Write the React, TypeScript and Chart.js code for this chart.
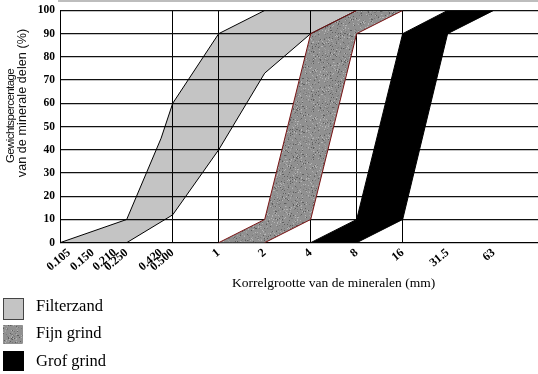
import { useEffect, useRef, useState } from 'react';
import { Chart, registerables } from 'chart.js';

Chart.register(...registerables);

// ---- data ----
const tickValues = [0.105, 0.15, 0.21, 0.25, 0.42, 0.5, 1, 2, 4, 8, 16, 31.5, 63];
const tickLabels = ['0.105', '0.150', '0.210', '0.250', '0.420', '0.500', '1', '2', '4', '8', '16', '31.5', '63'];
const gridValues = [0.5, 1, 4, 8, 16];
const xMin = 0.0915;
const xMax = 123;

const filterLeftX = [0.0915, 0.25, 0.42, 0.5, 1, 2];
const filterLeftY = [0, 10, 45, 60, 90, 100];
const filterRightX = [0.25, 0.5, 1, 2, 4, 8];
const filterRightY = [0, 12, 40, 73, 90, 100];

const bandY = [0, 10, 90, 100];
const fijnLeftX = [1, 2, 4, 8];
const fijnRightX = [2, 4, 8, 16];
const grofLeftX = [4, 8, 16, 31.5];
const grofRightX = [8, 16, 31.5, 63];

const seriesNames = ['Filterzand', 'Fijn grind', 'Grof grind'];
const yTitle = ['Gewichtspercentage', 'van de minerale delen (%)'];
const xTitle = 'Korrelgrootte van de mineralen (mm)';

const FILTER_COLOR = '#c4c4c4';

function makeSpeckleCanvas(): HTMLCanvasElement {
  const c = document.createElement('canvas');
  c.width = 48;
  c.height = 48;
  const g = c.getContext('2d')!;
  g.fillStyle = '#909090';
  g.fillRect(0, 0, 48, 48);
  let s = 1234567;
  const next = () => {
    s = (Math.imul(s, 1103515245) + 12345) >>> 0;
    return s >>> 8;
  };
  for (let i = 0; i < 520; i++) {
    const x = next() % 48;
    const y = next() % 48;
    const t = next() % 4;
    g.fillStyle = t === 0 ? '#5e5e5e' : t === 1 ? '#b4b4b4' : t === 2 ? '#7a7a7a' : '#a2a2a2';
    g.fillRect(x, y, 1, 1);
  }
  return c;
}

function pts(xs: number[], ys: number[]) {
  return xs.map((x, i) => ({ x, y: ys[i] }));
}

export default function App() {
  const ref = useRef<HTMLCanvasElement | null>(null);
  const [patternUrl, setPatternUrl] = useState<string>('');

  useEffect(() => {
    document.body.style.margin = '0';
    const speckle = makeSpeckleCanvas();
    setPatternUrl(speckle.toDataURL());
    const canvas = ref.current!;
    const ctx = canvas.getContext('2d')!;
    const pattern = ctx.createPattern(speckle, 'repeat')!;

    const ds = (xs: number[], ys: number[], bg: any, fill: any, order: number, border: string) => ({
      data: pts(xs, ys),
      borderColor: border,
      borderWidth: 1,
      backgroundColor: bg,
      fill,
      order,
      pointRadius: 0,
      tension: 0,
    });

    const chart = new Chart(canvas, {
      type: 'line',
      data: {
        datasets: [
          { label: seriesNames[0], ...ds(filterLeftX, filterLeftY, 'rgba(0,0,0,0.23)', '+1', 3, '#000') },
          { label: seriesNames[0] + ' (r)', ...ds(filterRightX, filterRightY, 'rgba(0,0,0,0.23)', false, 3, '#000') },
          { label: seriesNames[1], ...ds(fijnLeftX, bandY, pattern, '+1', 2, '#7a1414') },
          { label: seriesNames[1] + ' (r)', ...ds(fijnRightX, bandY, pattern, false, 2, '#7a1414') },
          { label: seriesNames[2], ...ds(grofLeftX, bandY, '#000', '+1', 1, '#000') },
          { label: seriesNames[2] + ' (r)', ...ds(grofRightX, bandY, '#000', false, 1, '#000') },
        ],
      },
      options: {
        animation: false,
        responsive: false,
        indexAxis: 'y',
        layout: { padding: { top: 5.7, bottom: 91.3, left: 0, right: 0 } },
        plugins: {
          legend: { display: false },
          tooltip: { enabled: false },
          filler: { drawTime: 'beforeDatasetsDraw' },
        },
        scales: {
          x: {
            type: 'logarithmic',
            position: 'bottom',
            min: xMin,
            max: xMax,
            bounds: 'data',
            afterBuildTicks: (scale: any) => {
              scale.ticks = tickValues.map((v) => ({ value: v }));
            },
            afterFit: (scale: any) => {
              scale.height = 40;
            },
            ticks: {
              autoSkip: false,
              minRotation: 40,
              maxRotation: 40,
              padding: 3,
              color: '#000',
              font: { family: 'Liberation Serif', size: 12, weight: 'bold' },
              callback: (_v: any, i: number) => tickLabels[i],
            },
            grid: {
              drawTicks: false,
              lineWidth: 1,
              color: (c: any) => (c.tick && gridValues.includes(c.tick.value) ? '#000' : 'rgba(0,0,0,0)'),
            },
            border: { display: true, color: '#000', width: 1 },
          },
          y: {
            type: 'linear',
            min: 0,
            max: 100,
            afterFit: (scale: any) => {
              scale.width = 60;
            },
            ticks: {
              stepSize: 10,
              padding: 5,
              color: '#000',
              font: { family: 'Liberation Serif', size: 11.5, weight: 'bold', lineHeight: 0.95 },
            },
            grid: { drawTicks: false, color: '#111', lineWidth: 1.3 },
            border: { display: true, color: '#000', width: 1 },
          },
        },
      },
    } as any);
    return () => chart.destroy();
  }, []);

  const abs = (s: any) => ({ position: 'absolute' as const, ...s });

  return (
    <div style={{ position: 'relative', width: 538, height: 374, background: '#fff', overflow: 'hidden' }}>
      <canvas ref={ref} width={538} height={374} style={{ display: 'block', width: 538, height: 374 }} />
      <div style={abs({ left: 58, top: 0, width: 480, height: 2, background: '#bdbdbd' })} />
      <div
        style={abs({
          left: 11,
          top: 116,
          transform: 'translate(-50%,-50%) rotate(-90deg)',
          whiteSpace: 'nowrap',
          fontFamily: 'Liberation Sans',
          fontSize: 11.5,
          letterSpacing: -0.6,
          lineHeight: 1,
          color: '#111',
        })}
      >
        {yTitle[0]}
      </div>
      <div
        style={abs({
          left: 22,
          top: 103,
          transform: 'translate(-50%,-50%) rotate(-90deg)',
          whiteSpace: 'nowrap',
          fontFamily: 'Liberation Sans',
          fontSize: 12.5,
          letterSpacing: 0.1,
          lineHeight: 1,
          color: '#111',
        })}
      >
        {yTitle[1]}
      </div>
      <div
        style={abs({
          left: 232,
          top: 275.7,
          whiteSpace: 'nowrap',
          fontFamily: 'Liberation Serif',
          fontSize: 13.5,
          lineHeight: 1,
          color: '#000',
        })}
      >
        {xTitle}
      </div>
      <div style={abs({ left: 3, top: 298, width: 21, height: 22, background: FILTER_COLOR, border: '1px solid #444', boxSizing: 'border-box' })} />
      <div
        style={abs({
          left: 3,
          top: 325,
          width: 20,
          height: 19,
          backgroundColor: '#909090',
          backgroundImage: patternUrl ? `url(${patternUrl})` : 'none',
        })}
      />
      <div style={abs({ left: 3, top: 351, width: 21, height: 20, background: '#000' })} />
      {seriesNames.map((n, i) => (
        <div
          key={n}
          style={abs({
            left: 36,
            top: [298.2, 325.2, 353.2][i],
            whiteSpace: 'nowrap',
            fontFamily: 'Liberation Serif',
            fontSize: 16.5,
            lineHeight: 1,
            color: '#000',
          })}
        >
          {n}
        </div>
      ))}
    </div>
  );
}
